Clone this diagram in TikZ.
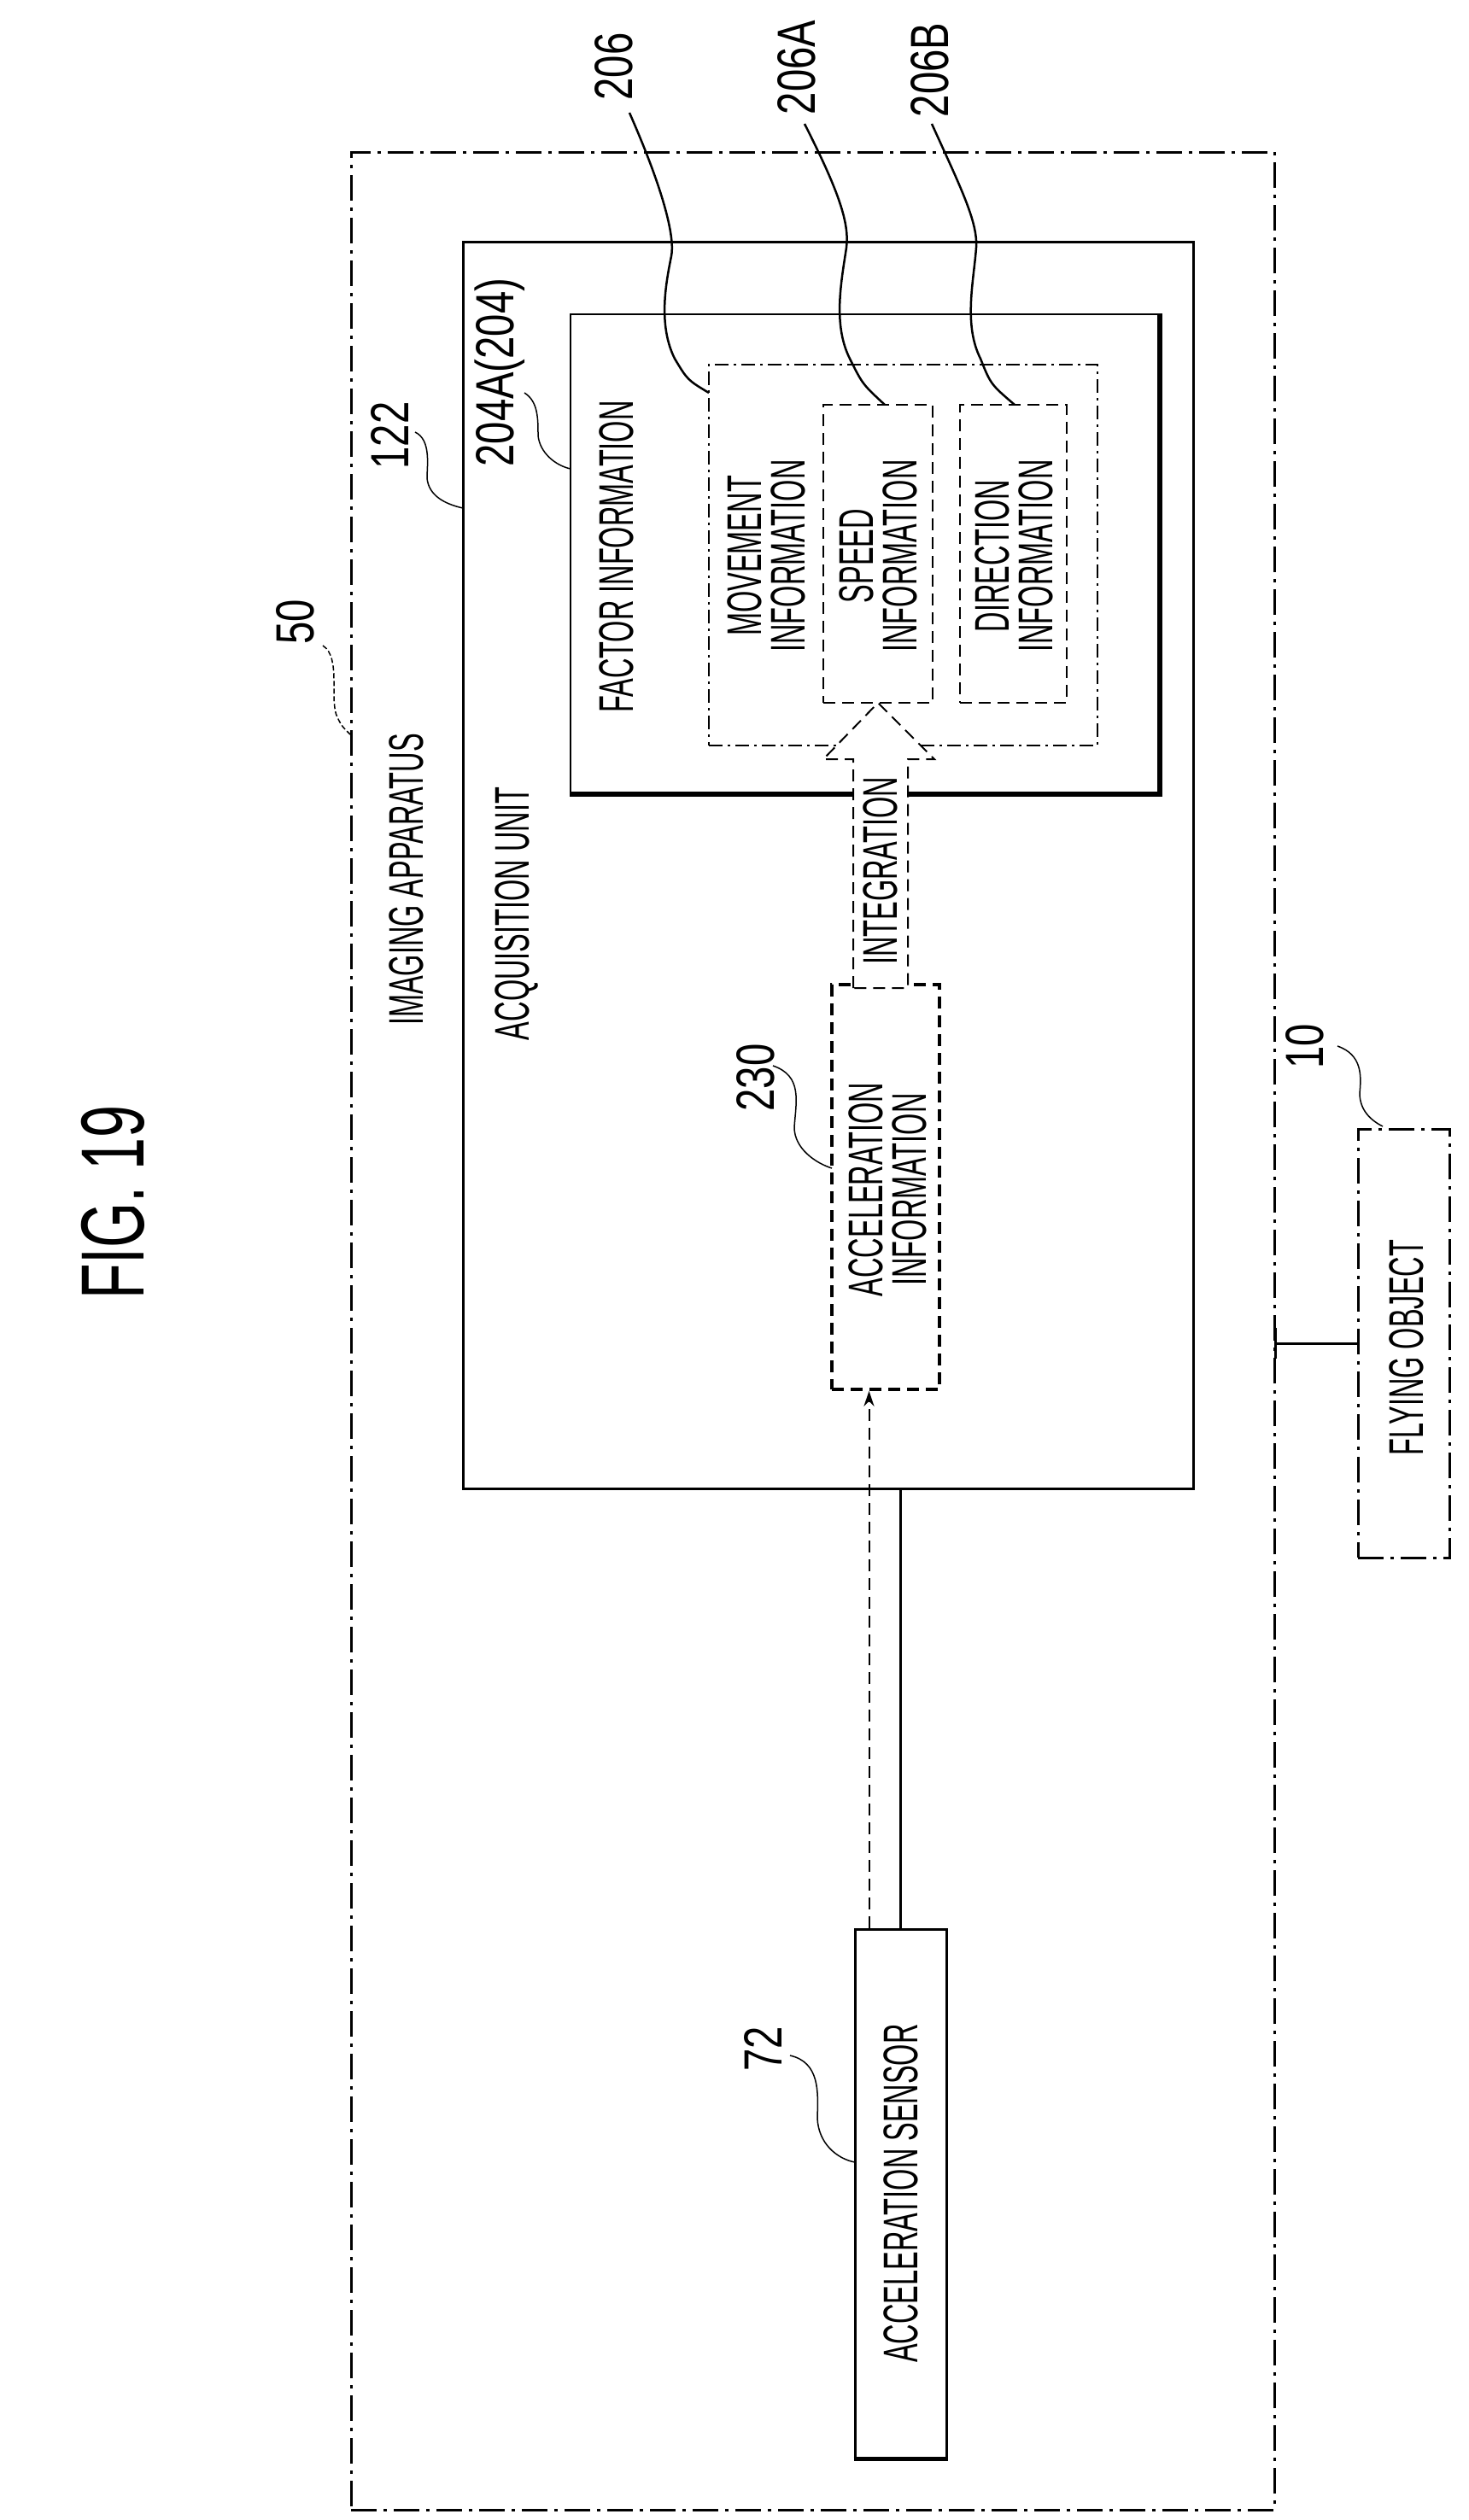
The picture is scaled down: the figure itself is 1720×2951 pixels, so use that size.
\documentclass[tikz,border=0pt]{standalone}
\usetikzlibrary{arrows.meta}
\usepackage{fontspec}
\setmainfont{Liberation Sans}
\newfontfamily\cond[FakeStretch=0.57]{Liberation Sans}
\newfontfamily\lab[FakeStretch=0.75]{Liberation Sans}
\newfontfamily\figf[FakeStretch=0.65]{Liberation Sans}
\begin{document}
\begin{tikzpicture}[x=1pt,y=-1pt,
  box/.style={draw,rectangle,inner sep=0pt,line width=#1},
  box/.default=3pt,
  dd/.style={dash pattern=on 30pt off 8pt on 4pt off 8pt},
  ddt/.style={dash pattern=on 16pt off 6pt on 3pt off 6pt},
  dsh/.style={dash pattern=on 14pt off 8pt},
  txt/.style={rotate=90,font=\cond\fontsize{57}{51}\selectfont,align=center,inner sep=0pt},
  num/.style={rotate=90,font=\lab\fontsize{63}{63}\selectfont,inner sep=0pt},
  lead/.style={line width=1.5pt}]
\fill[white] (0,0) rectangle (1720,2951);
\node[box, dd, minimum width=1081pt, minimum height=2761pt] (outer) at (951.5,1558.5) {};
\node[box, minimum width=855pt, minimum height=1460pt] (acq) at (969.5,1013) {};
\node[box=2pt, minimum width=689pt, minimum height=561pt] (fac) at (1012.5,648.5) {};
\draw[line width=6pt] (fac.north east) -- (fac.south east) -- (fac.south west);
\node[box=2pt, ddt, minimum width=455pt, minimum height=446pt] (mov) at (1057.5,650) {};
\node[box=2pt, dsh, minimum width=128pt, minimum height=349pt] (spd) at (1028,648.5) {};
\node[box=2pt, dsh, minimum width=125pt, minimum height=349pt] (dir) at (1186.5,648.5) {};
\node[box=3.5pt, dsh, minimum width=126pt, minimum height=474pt] (acc) at (1037,1390) {};
\node[box, minimum width=107pt, minimum height=619pt] (sen) at (1054.5,2568.5) {};
\draw[line width=5pt] (sen.south west) -- (sen.south east);
\node[box, dd, minimum width=107pt, minimum height=502pt] (fly) at (1643.5,1573) {};
% integration arrow
\draw[line width=2pt, dsh, fill=white] (999,1157) -- (999,889) -- (964,889) -- (1028,823) -- (1094,889) -- (1063,889) -- (1063,1157) -- cycle;
\node[txt] (intg) at (1031,1020) {INTEGRATION};
% texts
\node[rotate=90,font=\figf\fontsize{105}{105}\selectfont,inner sep=0pt] (fig) at (132,1408) {FIG. 19};
\node[txt] (ia) at (476,1030) {IMAGING APPARATUS};
\node[txt] (au) at (605,1070) {ACQUISITION UNIT};
\node[txt] (fi) at (722,652) {FACTOR INFORMATION};
\node[txt] (mi) at (897,651) {MOVEMENT\\INFORMATION};
\node[txt] (si) at (1028,651) {SPEED\\INFORMATION};
\node[txt] (di) at (1187,651) {DIRECTION\\INFORMATION};
\node[txt] (ai) at (1039,1393) {ACCELERATION\\INFORMATION};
\node[txt] (as) at (1054.5,2568.5) {ACCELERATION SENSOR};
\node[txt] (fo) at (1647,1578) {FLYING OBJECT};
% labels
\node[num] (l50) at (346,728) {50};
\node[num] (l122) at (457,510) {122};
\node[num] (l204) at (585,436) {204A(204)};
\node[num] (l206) at (719,78) {206};
\node[num] (l206a) at (933,79) {206A};
\node[num] (l206b) at (1089,82) {206B};
\node[num] (l230) at (885,1262) {230};
\node[num] (l72) at (893,2399) {72};
\node[num] (l10) at (1528,1225) {10};
% connectors
\draw[line width=3pt] (acq.south -| sen.north) -- (sen.north);
\coordinate (dA) at ([xshift=18pt]sen.north west);
\draw[line width=2pt, dsh, -{Stealth[length=18pt,width=12pt]}] (dA) -- (dA |- acc.south);
\draw[line width=3pt] (fly.west) -- (fly.west -| outer.east);
\draw[line width=3pt] ([yshift=-18pt]fly.west -| outer.east) -- ([yshift=18pt]fly.west -| outer.east);
% leaders
\coordinate (e50) at (410,860);
\draw[lead, dash pattern=on 6pt off 3pt] (378,756) .. controls (400,770) and (385,820) .. (395,840) .. controls (400,850) .. (e50);
\coordinate (e122) at (542,595);
\draw[lead] (486,506) .. controls (505,515) and (500,545) .. (500,560) .. controls (502,580) and (520,590) .. (e122);
\coordinate (e204) at (668,549);
\draw[lead] (614,460) .. controls (630,470) and (630,490) .. (630,510) .. controls (632,530) and (650,545) .. (e204);
\coordinate (e206) at (830,460);
\draw[line width=2.5pt] (737,132) .. controls (780,230) and (790,280) .. (786,300) .. controls (780,330) and (770,380) .. (790,420) .. controls (805,445) .. (e206);
\coordinate (e206a) at (1036,474);
\draw[line width=2.5pt] (942,145) .. controls (980,220) and (995,260) .. (991,290) .. controls (985,330) and (975,380) .. (995,420) .. controls (1010,450) .. (e206a);
\coordinate (e206b) at (1188,474);
\draw[line width=2.5pt] (1091,145) .. controls (1125,220) and (1145,260) .. (1143,290) .. controls (1140,330) and (1128,380) .. (1148,420) .. controls (1160,450) .. (e206b);
\coordinate (e230) at (974,1368);
\draw[lead] (905,1248) .. controls (940,1260) and (932,1290) .. (930,1320) .. controls (930,1345) and (955,1362) .. (e230);
\coordinate (e72) at (1001,2532);
\draw[lead] (925,2407) .. controls (960,2415) and (958,2450) .. (957,2480) .. controls (958,2510) and (980,2528) .. (e72);
\coordinate (e10) at (1619,1319);
\draw[lead] (1566,1225) .. controls (1595,1235) and (1594,1260) .. (1592,1280) .. controls (1592,1300) and (1605,1312) .. (e10);
\end{tikzpicture}
\end{document}
